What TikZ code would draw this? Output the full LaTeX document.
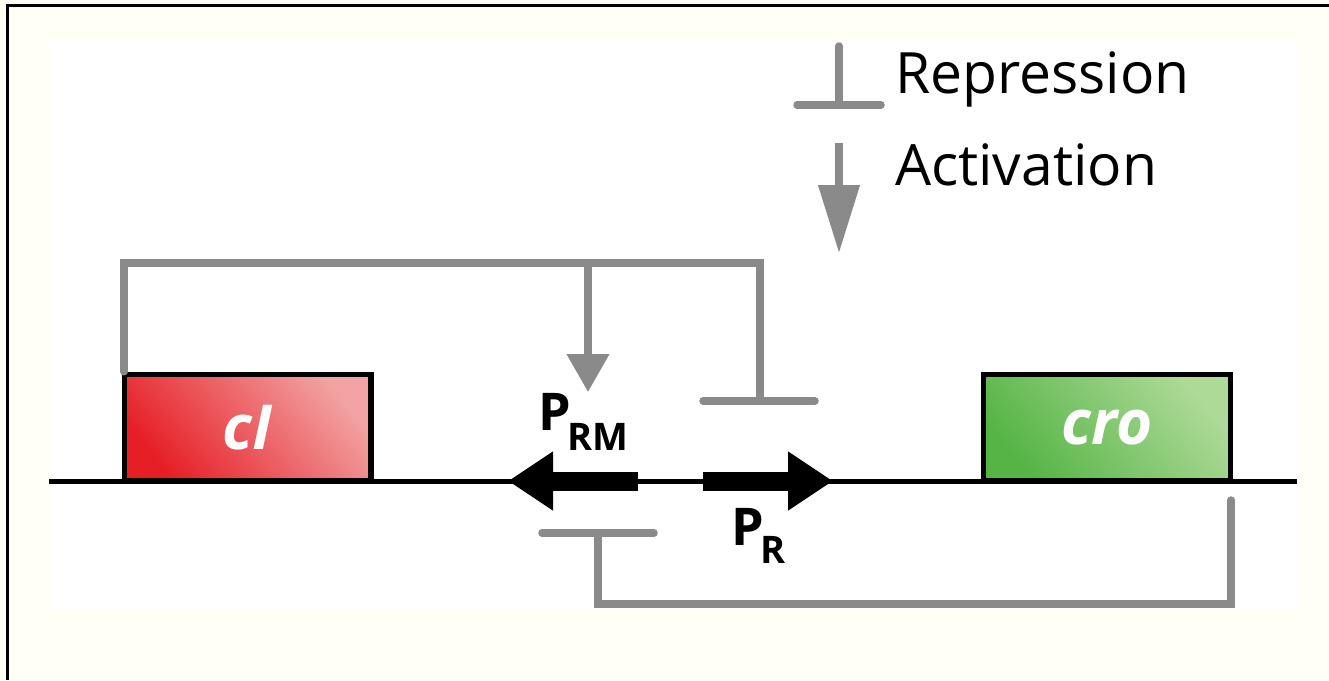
\documentclass[tikz,border=0pt]{standalone}
\usepackage{fontspec}
\setmainfont{Open Sans}
\usetikzlibrary{arrows.meta}
\definecolor{cream}{HTML}{FFFFF5}
\definecolor{inhgray}{HTML}{8A8A8A}
\definecolor{redA}{HTML}{E61E26}
\definecolor{redB}{HTML}{F2A2A2}
\definecolor{greenA}{HTML}{55B445}
\definecolor{greenB}{HTML}{AEDA98}
\tikzset{
  inh/.style={draw=inhgray, line width=7.5pt, line cap=round, line join=miter},
  act/.style={draw=inhgray, line width=7.5pt, -{Triangle[length=38pt,width=41pt]}},
  legact/.style={draw=inhgray, line width=7.5pt, -{Triangle[length=68pt,width=40pt]}},
  prom/.style={draw=black, line width=19pt, -{Triangle[length=45pt,width=56pt]}},
  genebox/.style={draw=black, line width=5.5pt, inner sep=0pt, text=white,
    font=\fontsize{62}{62}\selectfont\bfseries\itshape, shading=axis},
  legtext/.style={font=\fontsize{57}{57}\selectfont, anchor=base west, inner sep=0pt},
  plabel/.style={font=\fontsize{52}{52}\selectfont\bfseries, anchor=base west, inner sep=0pt}
}
\begin{document}
\begin{tikzpicture}[x=1pt,y=-1pt]
\useasboundingbox (0,0) rectangle (1329,680);
\fill[cream] (0,0) rectangle (1329,680);
\fill[white] (49,40) rectangle (1297,609);
\draw[line width=3pt] (7,680) -- (7,5) -- (1329,5);

% DNA
\coordinate (dnaL) at (49,481);
\coordinate (dnaR) at (1297,481);
\draw[line width=5pt] (dnaL) -- (dnaR);

% genes
\node[genebox, bottom color=redA, top color=redB, shading angle=-50,
  minimum width=246.5pt, minimum height=106.5pt] (cI) at (247.5,427.75) {cI};
\node[genebox, bottom color=greenA, top color=greenB, shading angle=-50,
  minimum width=247pt, minimum height=106.5pt] (cro) at (1107,427.75) {cro};

% promoters
\coordinate (prmS) at (638,481);
\coordinate (prmT) at (508,481);
\coordinate (prS) at (703,481);
\coordinate (prT) at (833,481);
\draw[prom] (prmS) -- (prmT);
\draw[prom] (prS) -- (prT);
\node[plabel] (prm) at (538,430) {P\kern-3pt\raisebox{-20pt}{\fontsize{38}{38}\selectfont RM}};
\node[plabel] (pr) at (731,545) {P\kern-3pt\raisebox{-18pt}{\fontsize{38}{38}\selectfont R}};

% cI feedback (top)
\coordinate (tl) at (124,263);
\coordinate (tr) at (760,263);
\coordinate (ta) at (588,263);
\coordinate (taT) at (588,392);
\coordinate (rbar) at (760,401);
\coordinate (rbarL) at (703,401);
\coordinate (rbarR) at (815,401);
\draw[inh] (tl |- cI.north) -- (tl) -- (tr) -- (rbar);
\draw[inh] (rbarL) -- (rbarR);
\draw[act] (ta) -- (taT);

% cro feedback (bottom)
\coordinate (cb) at (1231,500);
\coordinate (bR) at (1231,604);
\coordinate (bL) at (598,604);
\coordinate (bbar) at (598,533);
\coordinate (bbarL) at (542,533);
\coordinate (bbarR) at (654,533);
\draw[inh] (cb) -- (bR) -- (bL) -- (bbar);
\draw[inh] (bbarL) -- (bbarR);

% legend
\coordinate (lr1) at (839,46);
\coordinate (lr2) at (839,105);
\coordinate (lrL) at (797,105);
\coordinate (lrR) at (881,105);
\draw[inh] (lr1) -- (lr2);
\draw[inh] (lrL) -- (lrR);
\coordinate (la1) at (839,143);
\coordinate (la2) at (839,253);
\draw[legact] (la1) -- (la2);
\node[legtext] (rep) at (895,93) {Repression};
\node[legtext] (actv) at (895,185) {Activation};
\end{tikzpicture}
\end{document}
